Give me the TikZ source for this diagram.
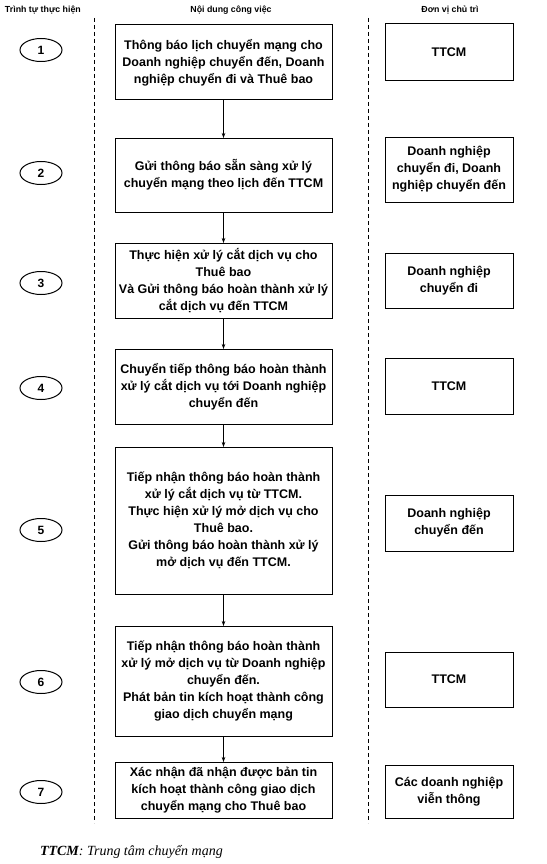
\documentclass[tikz,border=0pt]{standalone}
\usepackage{fontspec}
\setmainfont{Liberation Sans}
\newfontfamily\serifit{Liberation Serif}
\usetikzlibrary{arrows.meta,shapes.geometric}
\begin{document}
\begin{tikzpicture}[x=1pt,y=-1pt,
  every node/.style={inner sep=0pt,outer sep=0pt},
  mainbox/.style={draw,line width=1pt,minimum width=217pt,align=center,font=\bfseries\fontsize{12.5}{17}\selectfont},
  sidebox/.style={draw,line width=1pt,minimum width=128pt,align=center,font=\bfseries\fontsize{12.5}{17}\selectfont},
  stepnum/.style={draw,ellipse,line width=1pt,minimum width=42pt,minimum height=23pt,font=\bfseries\fontsize{12}{14}\selectfont},
  hdr/.style={font=\bfseries\fontsize{8.8}{10}\selectfont},
  sepline/.style={line width=0.8pt,dash pattern=on 4pt off 3pt},
  flow/.style={line width=0.6pt,-{Stealth[length=5pt,width=3.5pt]}}
]
\useasboundingbox (0,0) rectangle (546,864);
% headers
\node[hdr,anchor=west] (h1) at (5,10) {Trình tự thực hiện};
\node[hdr] (h2) at (231,10) {Nội dung công việc};
\node[hdr] (h3) at (450,10) {Đơn vị chủ trì};
% separators
\coordinate (s1a) at (94,18); \coordinate (s1b) at (94,823);
\coordinate (s2a) at (368,18); \coordinate (s2b) at (368,823);
\draw[sepline] (s1a) -- (s1b);
\draw[sepline] (s2a) -- (s2b);
% step numbers
\node[stepnum] (e1) at (41,50) {1};
\node[stepnum] (e2) at (41,173) {2};
\node[stepnum] (e3) at (41,283) {3};
\node[stepnum] (e4) at (41,388) {4};
\node[stepnum] (e5) at (41,530) {5};
\node[stepnum] (e6) at (41,682) {6};
\node[stepnum] (e7) at (41,792) {7};
% main boxes
\node[mainbox,minimum height=75pt] (m1) at (223.5,62.5) {Thông báo lịch chuyển mạng cho\\Doanh nghiệp chuyển đến, Doanh\\nghiệp chuyển đi và Thuê bao};
\node[mainbox,minimum height=74pt] (m2) at (223.5,175) {Gửi thông báo sẵn sàng xử lý\\chuyển mạng theo lịch đến TTCM};
\node[mainbox,minimum height=75pt] (m3) at (223.5,280.5) {Thực hiện xử lý cắt dịch vụ cho\\Thuê bao\\Và Gửi thông báo hoàn thành xử lý\\cắt dịch vụ đến TTCM};
\node[mainbox,minimum height=75pt] (m4) at (223.5,386.5) {Chuyển tiếp thông báo hoàn thành\\xử lý cắt dịch vụ tới Doanh nghiệp\\chuyển đến};
\node[mainbox,minimum height=147pt] (m5) at (223.5,520.5) {Tiếp nhận thông báo hoàn thành\\xử lý cắt dịch vụ từ TTCM.\\Thực hiện xử lý mở dịch vụ cho\\Thuê bao.\\Gửi thông báo hoàn thành xử lý\\mở dịch vụ đến TTCM.};
\node[mainbox,minimum height=110pt] (m6) at (223.5,681) {Tiếp nhận thông báo hoàn thành\\xử lý mở dịch vụ từ Doanh nghiệp\\chuyển đến.\\Phát bản tin kích hoạt thành công\\giao dịch chuyển mạng};
\node[mainbox,minimum height=56pt] (m7) at (223.5,790) {Xác nhận đã nhận được bản tin\\kích hoạt thành công giao dịch\\chuyển mạng cho Thuê bao};
% side boxes
\node[sidebox,minimum height=57pt] (r1) at (449,52.5) {TTCM};
\node[sidebox,minimum height=65pt] (r2) at (449,169.5) {Doanh nghiệp\\chuyển đi, Doanh\\nghiệp chuyển đến};
\node[sidebox,minimum height=55pt] (r3) at (449,280.5) {Doanh nghiệp\\chuyển đi};
\node[sidebox,minimum height=56pt] (r4) at (449,386) {TTCM};
\node[sidebox,minimum height=56pt] (r5) at (449,523) {Doanh nghiệp\\chuyển đến};
\node[sidebox,minimum height=55pt] (r6) at (449,679.5) {TTCM};
\node[sidebox,minimum height=53pt] (r7) at (449,791.5) {Các doanh nghiệp\\viễn thông};
% flow
\draw[flow] (m1) -- (m2);
\draw[flow] (m2) -- (m3);
\draw[flow] (m3) -- (m4);
\draw[flow] (m4) -- (m5);
\draw[flow] (m5) -- (m6);
\draw[flow] (m6) -- (m7);
% footnote
\node[anchor=west,font=\serifit\itshape\fontsize{14}{16}\selectfont] (fn) at (40,852) {\textbf{TTCM}: Trung tâm chuyển mạng};
\end{tikzpicture}
\end{document}
